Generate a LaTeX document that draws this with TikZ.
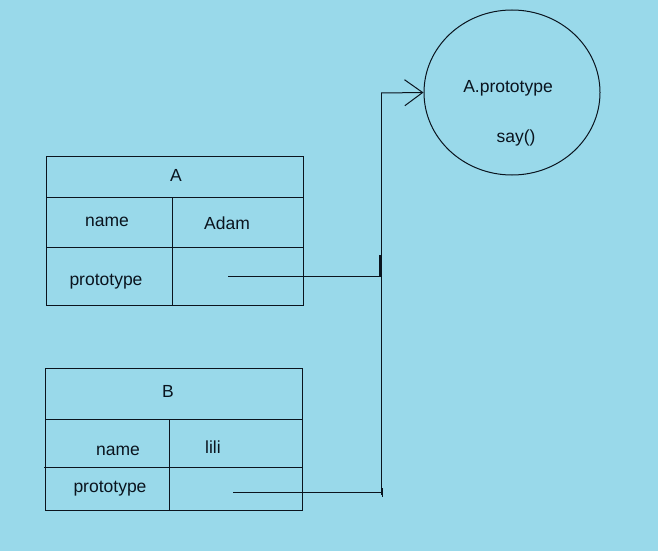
\documentclass[tikz,border=0pt]{standalone}
\usepackage{fontspec}
\setmainfont{Liberation Sans}
\usetikzlibrary{shapes.geometric,arrows.meta,positioning,calc}
\definecolor{board}{RGB}{153,217,234}
\definecolor{ink}{RGB}{10,20,30}
\tikzstyle{cell}=[draw=ink,line width=1pt]
\tikzstyle{label}=[text=ink,font=\fontsize{17.5}{19}\selectfont,inner sep=0pt]
\tikzstyle{link}=[draw=ink,line width=1pt]
\tikzset{y=-1pt}
\tikzset{x=1pt}

\begin{document}
\begin{tikzpicture}
  \fill[board] (0,0) rectangle (658,551);
  \useasboundingbox (0,0) rectangle (658,551);

  %% object A
  \draw[cell] (46,156) rectangle (303,305);
  \draw[cell] (46,197) -- (303,197);
  \draw[cell] (46,247) -- (303,247);
  \draw[cell] (172,197) -- (172,305);
  \draw (176,175) node[label] (Atitle) {A};
  \draw (107,222) node[label] (Aname) {name};
  \draw (227,223) node[label] (Aval) {Adam};
  \draw (106,282) node[label] (Aproto) {prototype};

  %% object B
  \draw[cell] (45,368) rectangle (302,510);
  \draw[cell] (45,419) -- (302,419);
  \draw[cell] (44,467) -- (302,467);
  \draw[cell] (169,419) -- (169,510);
  \draw (168,391) node[label] (Btitle) {B};
  \draw (118,451) node[label] (Bname) {name};
  \draw (213,447) node[label] (Bval) {lili};
  \draw (110,489) node[label] (Bproto) {prototype};

  %% prototype object
  \draw (512,92.5) node[ellipse,draw=ink,line width=1pt,minimum width=176pt,minimum height=165pt] (P) {};
  \draw (508,88) node[label] (Ptitle) {A.prototype};
  \draw (516,138) node[label] (Psay) {say()};

  %% links
  \coordinate (Aptr) at (228,276);
  \coordinate (Ajoin) at (380,276);
  \coordinate (Bptr) at (233,492);
  \coordinate (Bjoin) at (382,492);
  \coordinate (top) at (381,93);
  \draw[link] (Aptr) -- (Ajoin);
  \draw[draw=ink,line width=2pt] (380,255) -- (380,277);
  \draw[link] (Bptr) -- (Bjoin);
  \draw[link] (382,488) -- (382,497);
  \draw[link] (381,495) -- (top);
  \draw[link,-{Straight Barb[length=18pt,width=26pt,line width=1pt]}] (top) -- (P.west);
\end{tikzpicture}
\end{document}
